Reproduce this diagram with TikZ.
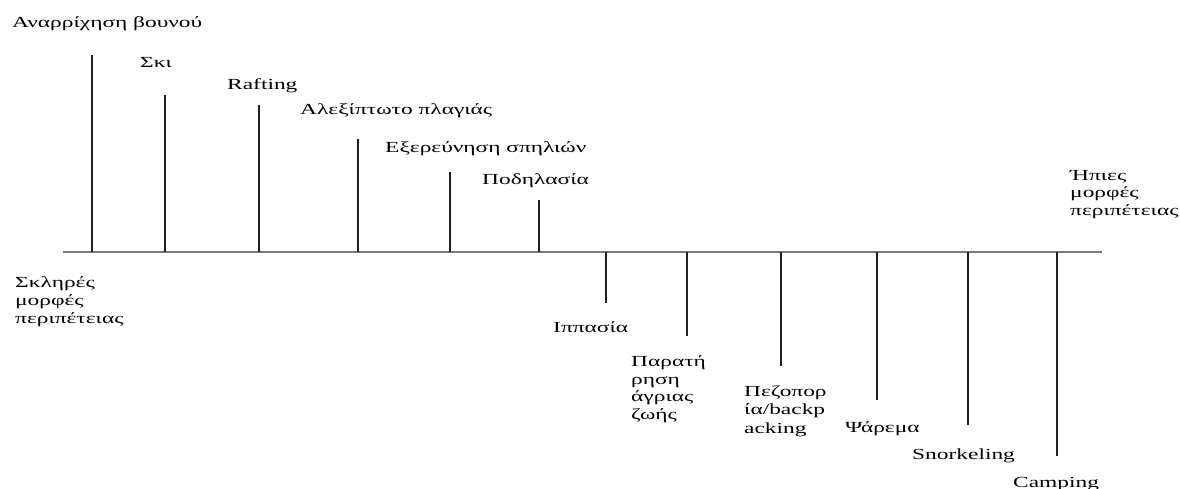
\documentclass[tikz,border=0pt]{standalone}
\usepackage{fontspec}
\setmainfont{Liberation Serif}[FakeStretch=1.52]
\begin{document}
\begin{tikzpicture}[x=1pt,y=-1pt,
  lbl/.style={anchor=base west,inner sep=0pt,align=left,font=\fontsize{15.4}{17.5}\selectfont},
  axisline/.style={draw=black!52,line width=2pt},
  tick/.style={draw=black!88,line width=1.3pt}]
\useasboundingbox (0,0) rectangle (1180,489);
\fill[white] (0,0) rectangle (1180,489);
% axis
\coordinate (L) at (63,252);
\coordinate (R) at (1102,252);
\draw[axisline] (L) -- (R);
% ticks
\foreach \n/\x/\y in {u1/92/55,u2/165/95,u3/259/105,u4/358/139,u5/450/172,u6/539/200,
                      d1/606/303,d2/687/336,d3/781/366,d4/877/400,d5/968/425,d6/1057/456}{
  \coordinate (\n a) at (\x,252);
  \coordinate (\n e) at (\x,\y);
  \draw[tick] (\n a) -- (\n e);
}
% labels (multi-line: anchor at the baseline of the last line)
\node[lbl] (t1) at (12,28) {Αναρρίχηση βουνού};
\node[lbl] (t2) at (140,68) {Σκι};
\node[lbl] (t3) at (227,90) {Rafting};
\node[lbl] (t4) at (300,115) {Αλεξίπτωτο πλαγιάς};
\node[lbl] (t5) at (385,153) {Εξερεύνηση σπηλιών};
\node[lbl] (t6) at (482,185) {Ποδηλασία};
\node[lbl,font=\fontsize{15.4}{18}\selectfont] (hard) at (15,323) {Σκληρές\\μορφές\\περιπέτειας};
\node[lbl] (soft) at (1070,215) {Ήπιες\\μορφές\\περιπέτειας};
\node[lbl] (b1) at (553,332) {Ιππασία};
\node[lbl] (b2) at (631,419) {Παρατή\\ρηση\\άγριας\\ζωής};
\node[lbl,font=\fontsize{15.4}{18.5}\selectfont] (b3) at (744,433) {Πεζοπορ\\ία/backp\\acking};
\node[lbl] (b4) at (845,432) {Ψάρεμα};
\node[lbl] (b5) at (912,459) {Snorkeling};
\node[lbl] (b6) at (1013,487) {Camping};
\end{tikzpicture}
\end{document}
